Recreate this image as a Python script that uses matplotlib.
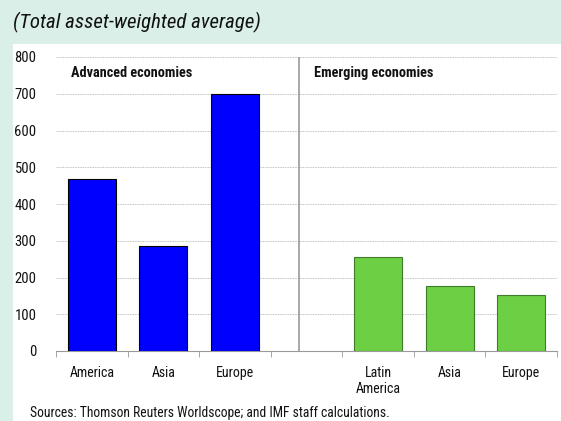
import matplotlib
matplotlib.use("Agg")
import matplotlib.pyplot as plt
from matplotlib import font_manager

names = {f.name for f in font_manager.fontManager.ttflist}
preferred = ["Roboto Condensed", "Liberation Sans Narrow", "DejaVu Sans Condensed",
             "Open Sans Condensed", "Roboto"]
narrow = next((n for n in preferred if n in names), "DejaVu Sans")
plt.rcParams["font.family"] = [narrow, "DejaVu Sans"]

advanced_labels = ["America", "Asia", "Europe"]
advanced_values = [468, 286, 700]
emerging_labels = ["Latin\nAmerica", "Asia", "Europe"]
emerging_values = [256, 178, 152]
y_ticks = [0, 100, 200, 300, 400, 500, 600, 700, 800]

fig = plt.figure(figsize=(5.61, 4.21), dpi=100)
fig.patch.set_facecolor("#d9efe7")

# white panel behind the chart
panel = fig.add_axes([13 / 561, 0, 1 - 13 / 561, 1 - 44 / 421], zorder=0)
panel.set_facecolor("white")
panel.set_xticks([])
panel.set_yticks([])
for s in panel.spines.values():
    s.set_visible(False)

ax = fig.add_axes([56 / 561, 1 - 351 / 421, 501 / 561, 294 / 421], zorder=1)
ax.set_facecolor("none")

adv_x = list(range(len(advanced_values)))
emg_x = [i + len(advanced_values) + 1 for i in range(len(emerging_values))]

ax.bar(adv_x, advanced_values, width=0.67, color="#0000ff", edgecolor="#000000",
       linewidth=0.8, zorder=3)
ax.bar(emg_x, emerging_values, width=0.67, color="#6ccf44", edgecolor="#3f7d2c",
       linewidth=0.8, zorder=3)

ax.set_xlim(-0.5, 6.5)
ax.set_ylim(0, 800)
ax.set_yticks(y_ticks)
ax.set_yticklabels([str(v) for v in y_ticks], fontsize=10.5, color="#111111")
ax.yaxis.grid(True, linestyle=(0, (1, 1)), color="#aaaaaa", linewidth=0.6)
ax.set_axisbelow(True)

ax.set_xticks(adv_x + emg_x)
ax.set_xticklabels(advanced_labels + emerging_labels, fontsize=10, color="#111111")
ax.set_xticks([i - 0.5 for i in range(8)], minor=True)
ax.tick_params(axis="x", which="major", length=0, pad=11)
ax.tick_params(axis="x", which="minor", length=4, color="#999999", direction="out")
ax.tick_params(axis="y", length=0, pad=14)

for side in ("left", "right", "top"):
    ax.spines[side].set_visible(False)
ax.spines["bottom"].set_color("#999999")

ax.axvline(2.9, color="#999999", linewidth=1.2, zorder=2)

ax.text(-0.29, 756, "Advanced economies", fontsize=10.3, fontweight="bold", va="center",
        color="#111111")
ax.text(3.11, 756, "Emerging economies", fontsize=10.3, fontweight="bold", va="center",
        color="#111111")

fig.text(13 / 561, 1 - 22 / 421, "(Total asset-weighted average)", fontsize=15,
         fontstyle="italic", va="center", ha="left", color="#111111")
fig.text(30 / 561, 1 - 413 / 421, "Sources: Thomson Reuters Worldscope; and IMF staff calculations.",
         fontsize=9.8, va="center", ha="left", color="#111111")

fig.savefig("out.png", dpi=100, facecolor=fig.get_facecolor())
